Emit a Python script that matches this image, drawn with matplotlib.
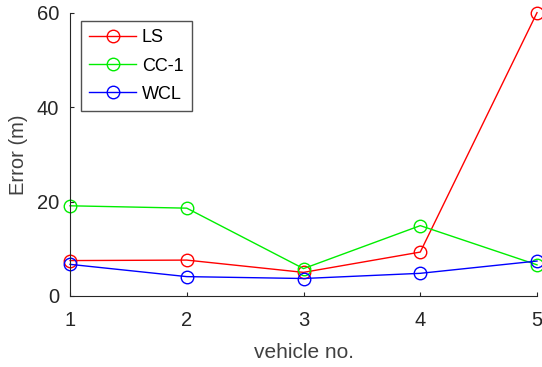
import matplotlib
matplotlib.use("Agg")
import matplotlib.pyplot as plt

plt.rcParams['font.family'] = ['Liberation Sans', 'DejaVu Sans']

vehicles = [1, 2, 3, 4, 5]
ls_err = [7.5, 7.6, 5.0, 9.3, 60.0]
cc1_err = [19.1, 18.6, 5.8, 14.9, 6.6]
wcl_err = [6.7, 4.1, 3.7, 4.8, 7.4]
labels = ['LS', 'CC-1', 'WCL']
colors = ['#ff0000', '#00ee00', '#0000ff']

fig = plt.figure(figsize=(5.42, 3.67), dpi=100)
ax = fig.add_axes([0.1292, 0.1935, 0.8616, 0.772])

for data, lab, c in zip([ls_err, cc1_err, wcl_err], labels, colors):
    ax.plot(vehicles, data, '-o', color=c, mfc='none', mec=c, ms=9,
            lw=1.0, mew=1.0, label=lab, clip_on=False)

ax.set_xlim(1, 5)
ax.set_ylim(0, 60)
ax.set_xticks([1, 2, 3, 4, 5])
ax.set_yticks([0, 20, 40, 60])
for s in ['top', 'right']:
    ax.spines[s].set_visible(False)
for s in ['left', 'bottom']:
    ax.spines[s].set_color('#262626')
    ax.spines[s].set_linewidth(0.8)
ax.tick_params(direction='in', length=3, colors='#262626', labelsize=14.5, width=0.8)
ax.tick_params(axis='x', pad=11)
ax.tick_params(axis='y', pad=8)
ax.set_xlabel('vehicle no.', fontsize=15, color='#404040', labelpad=9)
ax.set_ylabel('Error (m)', fontsize=14.5, color='#404040', labelpad=6)

leg = ax.legend(loc='upper left', bbox_to_anchor=(0.0242, 0.9696), borderaxespad=0,
                fontsize=13, frameon=True, fancybox=False, handlelength=2.6,
                borderpad=0.45, labelspacing=0.62, handletextpad=0.3)
leg.get_frame().set_edgecolor('#262626')
leg.get_frame().set_linewidth(1.0)

fig.savefig('out.png', dpi=100)
